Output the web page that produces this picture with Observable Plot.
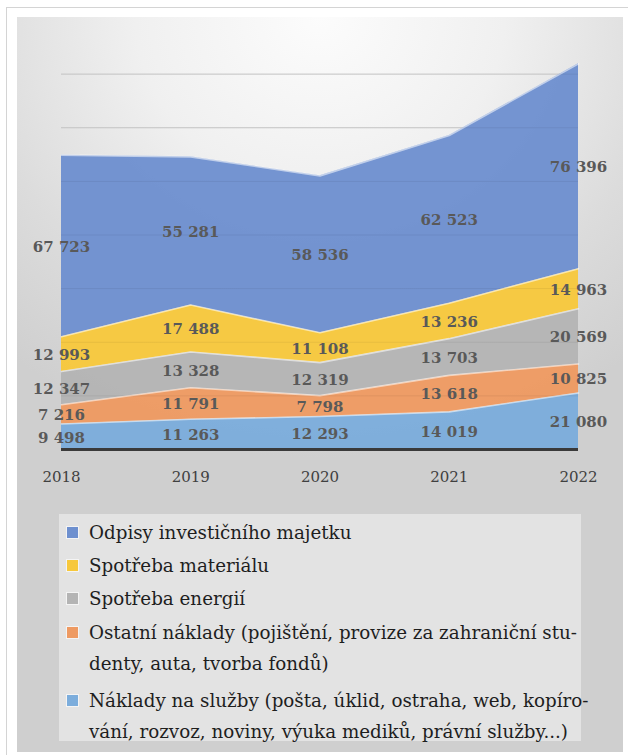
<!DOCTYPE html>
<html>
<head>
<meta charset="utf-8">
<script src="https://cdn.jsdelivr.net/npm/d3@7"></script>
<script src="https://cdn.jsdelivr.net/npm/@observablehq/plot@0.6"></script>
<style>
  html, body { margin: 0; padding: 0; background: #fff; }
  #page { position: relative; width: 628px; height: 755px; overflow: hidden; background: #fff; }
  #card { position: absolute; left: 6px; top: 7px; width: 640px; height: 760px; border: 1px solid #d4d4d4; background: #fff; }
  #panel { position: absolute; left: 17px; top: 17px; width: 606px; height: 735px;
    background: radial-gradient(ellipse 80% 60% at 50% 0%, #fcfcfc 0%, #f0f0f0 38%, #dcdcdc 72%, #cfcfcf 100%); }
  #chart { position: absolute; left: 0; top: 0; }
  #legend { position: absolute; left: 59px; top: 514px; width: 522px; height: 227px; background: #e3e3e3;
    font-family: "DejaVu Serif", serif; font-size: 18.3px; color: #1e1e1e; }
  .item { position: absolute; left: 0; }
  .sw { position: absolute; left: 7px; width: 11px; height: 11px; border: 1px solid #f4f4f4; }
  .txt { position: absolute; left: 30px; white-space: nowrap; line-height: 31px; }
</style>
</head>
<body>
<div id="page">
  <div id="card"></div>
  <div id="panel"></div>
  <div id="chart"></div>
  <div id="legend"></div>
</div>
<script>
// ---- data ----
const years = [2018, 2019, 2020, 2021, 2022];
// stack order bottom -> top
const seriesNames = ["Náklady na služby", "Ostatní náklady", "Spotřeba energií", "Spotřeba materiálu", "Odpisy investičního majetku"];
const sluzby   = [9498, 11263, 12293, 14019, 21080];
const ostatni  = [7216, 11791, 7798, 13618, 10825];
const energie  = [12347, 13328, 12319, 13703, 20569];
const material = [12993, 17488, 11108, 13236, 14963];
const odpisy   = [67723, 55281, 58536, 62523, 76396];
const seriesColors = ["#7caddc", "#ee9a62", "#b4b4b4", "#f7c83c", "#6e90cf"];
const gridTicks = [20000, 40000, 60000, 80000, 100000, 120000, 140000];
// legend, top -> bottom, with original line breaks
const legendOrder = [4, 3, 2, 1, 0];
const legendLines = [
  ["Náklady na služby (pošta, úklid, ostraha, web, kopíro-", "vání, rozvoz, noviny, výuka mediků, právní služby...)"],
  ["Ostatní náklady (pojištění, provize za zahraniční stu-", "denty, auta, tvorba fondů)"],
  ["Spotřeba energií"],
  ["Spotřeba materiálu"],
  ["Odpisy investičního majetku"]
];

const valuesBySeries = [sluzby, ostatni, energie, material, odpisy];
const data = [];
seriesNames.forEach((s, i) => years.forEach((y, j) => data.push({year: y, series: s, value: valuesBySeries[i][j]})));
const fmt = v => d3.format(",")(v).replace(/,/g, " ");

const stackOpts = {x: "year", y: "value", z: "series", order: seriesNames};

const plot = Plot.plot({
  width: 628,
  height: 500,
  marginLeft: 61,
  marginRight: 50,
  marginTop: 20,
  marginBottom: 51,
  style: {background: "transparent", fontFamily: "'DejaVu Serif', serif", overflow: "visible"},
  x: {type: "linear", domain: [2018, 2022], axis: null},
  y: {domain: [0, 160000], axis: null},
  color: {domain: seriesNames, range: seriesColors},
  marks: [
    Plot.ruleY(gridTicks, {x1: 2018, x2: 2022, stroke: "#cfcfcf", strokeWidth: 1}),
    Plot.areaY(data, Plot.stackY({...stackOpts, fill: "series", fillOpacity: 0.96})),
    Plot.lineY(data, Plot.stackY2({...stackOpts, stroke: "#ffffff", strokeOpacity: 0.55, strokeWidth: 1.6})),
    Plot.ruleY(gridTicks, {x1: 2018, x2: 2022, stroke: "#000", strokeOpacity: 0.06, strokeWidth: 1}),
    Plot.ruleY([0], {x1: 2018, x2: 2022, stroke: "#3a3a3a", strokeWidth: 3}),
    Plot.text(data, Plot.stackY({...stackOpts, text: d => fmt(d.value), fill: "#595959", fontSize: 15, fontWeight: "bold", dy: 1})),
    Plot.text(years, {x: d => d, y: 0, text: d => String(d), dy: 28, fill: "#404040", fontSize: 15})
  ]
});
document.getElementById("chart").appendChild(plot);

// legend
const legend = document.getElementById("legend");
const centers = [18, 51, 84, 118, 186]; // first-line centers relative to legend box
legendOrder.forEach((si, k) => {
  const item = document.createElement("div");
  item.className = "item";
  item.style.top = (centers[k] - 15.5) + "px";
  const sw = document.createElement("div");
  sw.className = "sw";
  sw.style.top = "9px";
  sw.style.background = seriesColors[si];
  const txt = document.createElement("div");
  txt.className = "txt";
  txt.style.top = "0px";
  txt.innerHTML = legendLines[si].map(l => l.replace(/&/g, "&amp;").replace(/</g, "&lt;")).join("<br>");
  item.appendChild(sw);
  item.appendChild(txt);
  legend.appendChild(item);
});
</script>
</body>
</html>
